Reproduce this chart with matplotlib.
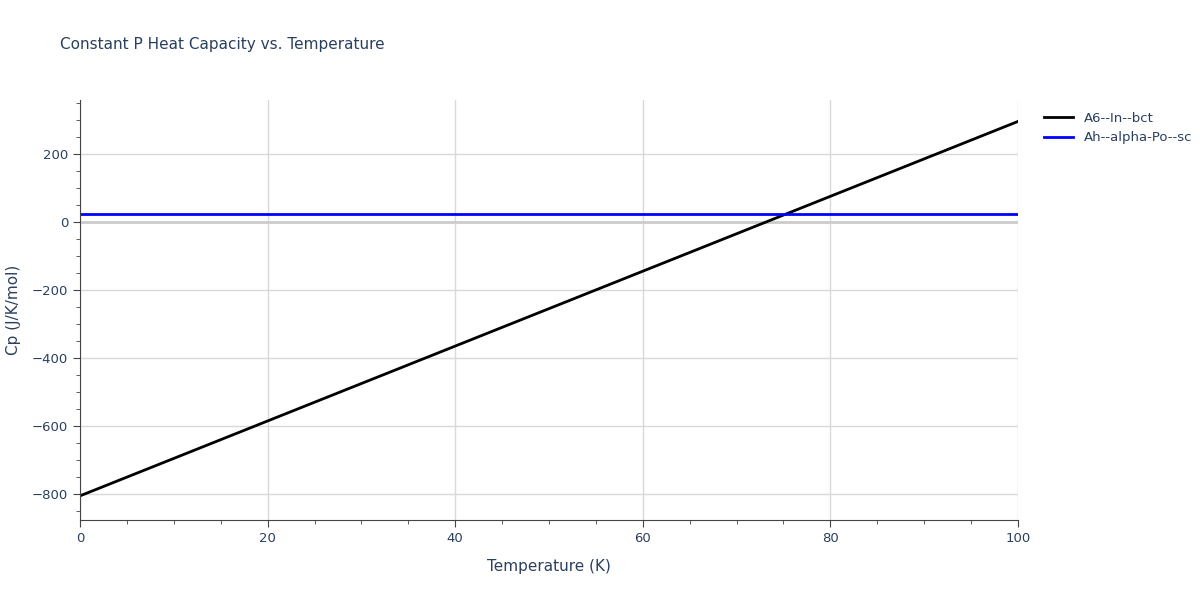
import matplotlib.pyplot as plt
from matplotlib.ticker import MultipleLocator

temps = [0, 100]
cp_in_bct = [-805, 296]
cp_po_sc = [25, 25]

fig = plt.figure(figsize=(12, 6), dpi=100)
ax = fig.add_axes([80 / 1200, 80 / 600, 938 / 1200, 420 / 600])

grid_c = '#d9d9d9'
ax.grid(True, color=grid_c, linewidth=1)
ax.set_axisbelow(True)
ax.axhline(0, color='#cccccc', linewidth=2, zorder=1)

ax.plot(temps, cp_in_bct, color='black', linewidth=2, label='A6--In--bct')
ax.plot(temps, cp_po_sc, color='blue', linewidth=2, label='Ah--alpha-Po--sc')

ax.set_xlim(0, 100)
ax.set_ylim(-876, 359)
ax.xaxis.set_major_locator(MultipleLocator(20))
ax.xaxis.set_minor_locator(MultipleLocator(5))
ax.yaxis.set_major_locator(MultipleLocator(200))
ax.yaxis.set_minor_locator(MultipleLocator(50))
ax.set_yticks([-800, -600, -400, -200, 0, 200])
ax.set_yticklabels(['\u2212800', '\u2212600', '\u2212400', '\u2212200', '0', '200'])

for s in ['top', 'right']:
    ax.spines[s].set_visible(False)
for s in ['left', 'bottom']:
    ax.spines[s].set_color('#444444')
ax.tick_params(which='both', colors='#444444', labelcolor='#2a3f5f', labelsize=9.5)
ax.tick_params(which='major', length=5)
ax.tick_params(which='minor', length=3)

ax.set_xlabel('Temperature (K)', color='#2a3f5f', fontsize=11, labelpad=10)
ax.set_ylabel('Cp (J/K/mol)', color='#2a3f5f', fontsize=11, labelpad=8)
fig.text(60 / 1200, 1 - 45 / 600, 'Constant P Heat Capacity vs. Temperature',
         color='#2a3f5f', fontsize=11, va='center')

ax.legend(loc='upper left', bbox_to_anchor=(1.015, 1.0), frameon=False,
          fontsize=9.5, labelcolor='#2a3f5f', handlelength=2.2)

fig.savefig('out.png', dpi=100)
